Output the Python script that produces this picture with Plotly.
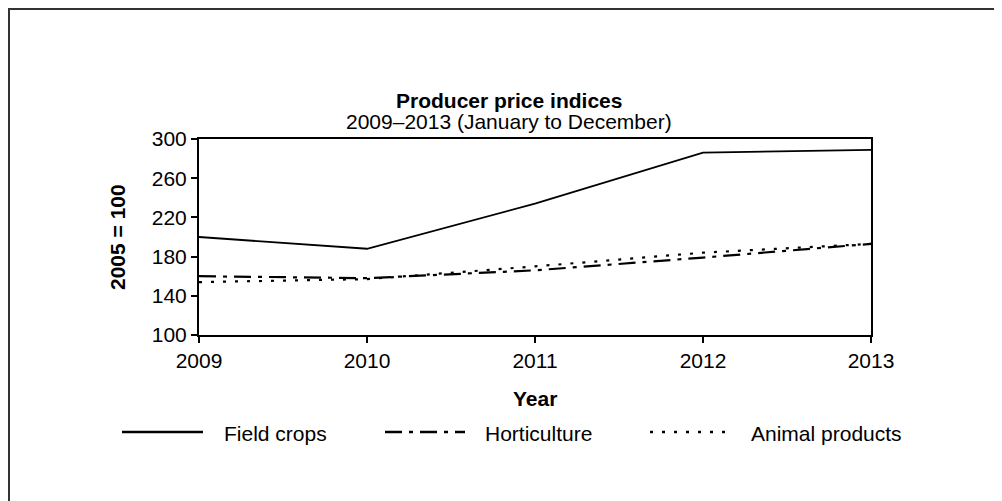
import plotly.graph_objects as go

# ---- data ----
years = [2009, 2010, 2011, 2012, 2013]
field_crops = [200, 188, 234, 286, 289]
horticulture = [160, 158, 166, 179, 193]
animal_products = [154, 157, 170, 184, 193]
y_ticks = [100, 140, 180, 220, 260, 300]
series_names = ["Field crops", "Horticulture", "Animal products"]

OFF = 8  # default page body margin shifts the figure
W, H = 1002 - OFF, 501 - OFF
# plot box in screen pixels
PL, PR, PT, PB = 199, 871, 139, 335
PW = PR - PL
PH = PB - PT
FONT = "Liberation Sans, Arial, sans-serif"
INK = "#000000"
FRAME = "#333333"

def px_x(p):
    return (p - PL) / PW

def px_y(p):
    return (PB - p) / PH

DASH_HORT = "17px,7px,4px,7px"
DASH_ANIM = "3px,9px"

fig = go.Figure()
fig.add_trace(go.Scatter(x=years, y=field_crops, mode="lines", name=series_names[0],
                         line=dict(color=INK, width=1.8), showlegend=False))
fig.add_trace(go.Scatter(x=years, y=horticulture, mode="lines", name=series_names[1],
                         line=dict(color=INK, width=2.2, dash=DASH_HORT), showlegend=False))
fig.add_trace(go.Scatter(x=years, y=animal_products, mode="lines", name=series_names[2],
                         line=dict(color=INK, width=2.2, dash=DASH_ANIM), showlegend=False))

shapes = [
    # outer frame: only top and left edges are inside the window
    dict(type="line", xref="paper", yref="paper",
         x0=px_x(8), x1=px_x(1010), y0=px_y(9), y1=px_y(9),
         line=dict(color=FRAME, width=2), layer="below"),
    dict(type="line", xref="paper", yref="paper",
         x0=px_x(9), x1=px_x(9), y0=px_y(8), y1=px_y(510),
         line=dict(color=FRAME, width=2), layer="below"),
]

# manual legend
legend_y = 432
legend_items = [
    (series_names[0], 122, 203, 222, "solid"),
    (series_names[1], 385, 465, 483, DASH_HORT),
    (series_names[2], 650, 727, 749, DASH_ANIM),
]
annotations = []
for name, lx0, lx1, tx, dash in legend_items:
    shapes.append(dict(type="line", xref="paper", yref="paper",
                       x0=px_x(lx0), x1=px_x(lx1), y0=px_y(legend_y), y1=px_y(legend_y),
                       line=dict(color=INK, width=2.5, dash=dash)))
    annotations.append(dict(text=name, xref="paper", yref="paper",
                            x=px_x(tx), y=px_y(legend_y + 1), xanchor="left", yanchor="middle",
                            showarrow=False, font=dict(family=FONT, size=21, color=INK)))

annotations += [
    dict(text="<b>Producer price indices</b>", xref="paper", yref="paper",
         x=px_x(509), y=px_y(101), xanchor="center", yanchor="middle", showarrow=False,
         font=dict(family=FONT, size=21, color=INK)),
    dict(text="2009–2013 (January to December)", xref="paper", yref="paper",
         x=px_x(509), y=px_y(121), xanchor="center", yanchor="middle", showarrow=False,
         font=dict(family=FONT, size=21, color=INK)),
    dict(text="<b>Year</b>", xref="paper", yref="paper",
         x=px_x(535), y=px_y(398), xanchor="center", yanchor="middle", showarrow=False,
         font=dict(family=FONT, size=21, color=INK)),
    dict(text="<b>2005 = 100</b>", xref="paper", yref="paper", textangle=-90,
         x=px_x(117), y=px_y(237), xanchor="center", yanchor="middle", showarrow=False,
         font=dict(family=FONT, size=21, color=INK)),
]

fig.update_layout(
    width=W, height=H,
    margin=dict(l=PL - OFF, r=W - (PR - OFF), t=PT - OFF, b=H - (PB - OFF), pad=0),
    paper_bgcolor="white", plot_bgcolor="white",
    showlegend=False,
    shapes=shapes, annotations=annotations,
    font=dict(family=FONT, size=21, color=INK),
)
fig.update_xaxes(range=[years[0], years[-1]], tickvals=years, ticktext=[str(y) for y in years],
                 showgrid=False, zeroline=False, showline=True, linecolor=INK, linewidth=2,
                 mirror=True, ticks="outside", ticklen=6, tickwidth=2, tickcolor=INK,
                 tickfont=dict(family=FONT, size=21, color=INK))
fig.update_yaxes(range=[y_ticks[0], y_ticks[-1]], tickvals=y_ticks,
                 showgrid=False, zeroline=False, showline=True, linecolor=INK, linewidth=2,
                 mirror=True, ticks="outside", ticklen=6, tickwidth=2, tickcolor=INK,
                 tickfont=dict(family=FONT, size=21, color=INK))

fig.write_html("out.html")
